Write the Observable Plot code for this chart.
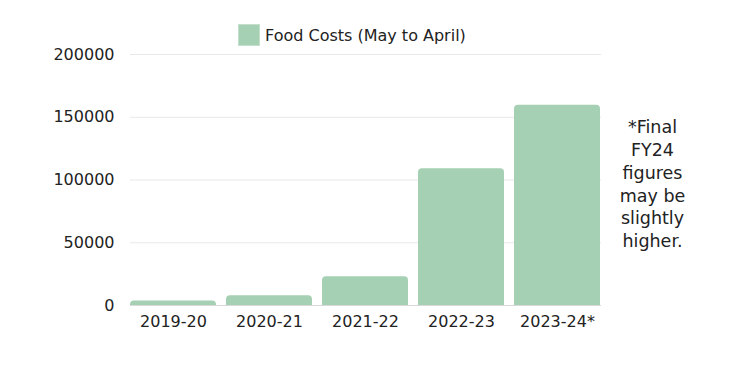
<!DOCTYPE html>
<html><head><meta charset="utf-8">
<script src="https://cdn.jsdelivr.net/npm/d3@7"></script>
<script src="https://cdn.jsdelivr.net/npm/@observablehq/plot@0.6"></script>
<style>
body{margin:0;background:#fff;font-family:"DejaVu Sans",sans-serif;color:#222;}
#wrap{position:relative;width:737px;height:365px;}
#legend{position:absolute;left:238px;top:24px;display:flex;align-items:center;font-size:16px;color:#222;z-index:2;}
#legend .sw{width:20px;height:20px;background:#a6d0b3;border:1px solid #c4e0cc;margin-right:5px;}
</style></head><body>
<div id="wrap"><div id="legend"><span class="sw"></span><span>Food Costs (May to April)</span></div></div>
<script>
const years = ["2019-20","2020-21","2021-22","2022-23","2023-24*"];
const costs = [3500, 7800, 23000, 109000, 159500];
const yTicks = [0, 50000, 100000, 150000, 200000];
const seriesName = "Food Costs (May to April)";
const note = "*Final\nFY24\nfigures\nmay be\nslightly\nhigher.";
const color = "#a6d0b3";

const data = years.map((y,i)=>({year:y, value:costs[i]}));

const chart = Plot.plot({
  width:737, height:365,
  marginTop:54, marginBottom:60, marginLeft:130, marginRight:136,
  style:{fontFamily:"DejaVu Sans, sans-serif", fontSize:"16px", color:"#222", background:"transparent"},
  x:{domain:years, paddingInner:0.1, paddingOuter:0, label:null, tickSize:0, tickPadding:10},
  y:{domain:[0,200000], ticks:yTicks, label:null, tickSize:0, tickPadding:16, tickFormat:d=>String(d)},
  marks:[
    Plot.ruleY(yTicks,{stroke:"#e8e8e8"}),
    Plot.barY(data,{x:"year",y:"value",fill:color,ry1:4}),
    Plot.ruleY([0],{stroke:"#d9d9d9"}),
    Plot.text([note],{frameAnchor:"right", dx:51, dy:3, textAnchor:"middle", fontSize:17.5, lineHeight:1.3, fill:"#222"})
  ]
});
document.getElementById("wrap").appendChild(chart);
chart.style.position="absolute"; chart.style.left="0"; chart.style.top="0";
</script>
</body></html>
